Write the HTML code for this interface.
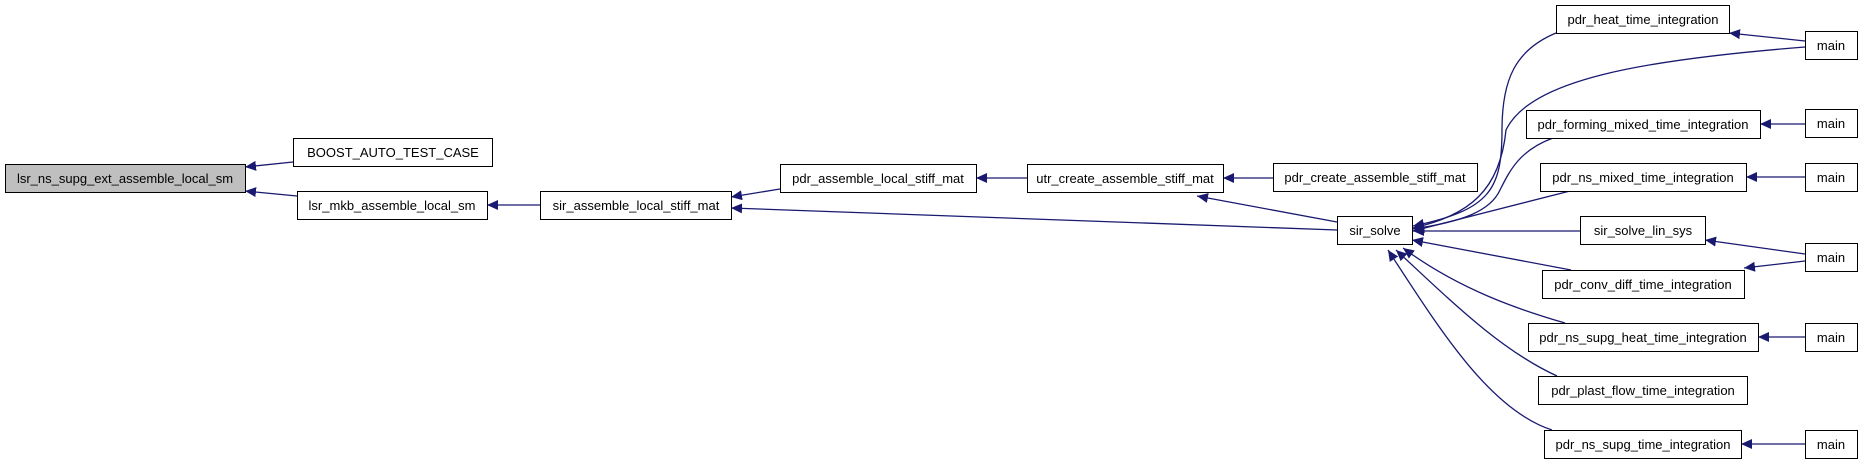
<!DOCTYPE html>
<html><head><meta charset="utf-8"><style>
html,body{margin:0;padding:0;background:#fff;}
svg{display:block;}
text{font-family:"Liberation Sans",Helvetica,sans-serif;font-size:13px;fill:#000;}
</style></head><body>
<svg width="1861" height="464" viewBox="0 0 1861 464" xmlns="http://www.w3.org/2000/svg">
<defs>
<marker id="a" markerWidth="12" markerHeight="10" refX="11" refY="5" orient="auto" markerUnits="userSpaceOnUse">
<path d="M0,0 L11,5 L0,10 Z" fill="#191970"/>
</marker>
</defs>
<g fill="none" stroke="#191970" stroke-width="1.3" marker-end="url(#a)">
<path d="M293,162 L245,167"/>
<path d="M297,196 L245,191"/>
<path d="M540,205 L487,205"/>
<path d="M780,189 L731,197"/>
<path d="M1337,230 L731,208"/>
<path d="M1027,178 L976,178"/>
<path d="M1273,178 L1223,178"/>
<path d="M1337,222 L1197,196"/>
<path d="M1556,33 C1515,50 1502,80 1502,130 C1502,190 1490,210 1413,226"/>
<path d="M1805,41 L1729,33"/>
<path d="M1805,47 C1640,60 1530,80 1506,130 C1500,190 1470,215 1413,228"/>
<path d="M1553,138 C1520,150 1510,170 1500,190 C1490,212 1460,222 1413,229"/>
<path d="M1805,124 L1760,124"/>
<path d="M1570,191 L1413,231"/>
<path d="M1805,177 L1746,177"/>
<path d="M1580,231 L1413,231"/>
<path d="M1805,254 L1705,240"/>
<path d="M1805,261 L1744,268"/>
<path d="M1571,270 L1412,240"/>
<path d="M1565,323 C1520,310 1460,290 1403,248"/>
<path d="M1557,376 C1500,350 1450,300 1396,250"/>
<path d="M1552,430 C1490,410 1440,330 1388,250"/>
<path d="M1805,337 L1758,337"/>
<path d="M1805,444 L1741,444"/>
</g>
<g stroke-width="1">
<rect x="5.5" y="164.5" width="240" height="28" fill="#bfbfbf" stroke="#000"/>
<rect x="293.5" y="138.5" width="199" height="28" fill="#fff" stroke="#000"/>
<rect x="297.5" y="191.5" width="190" height="28" fill="#fff" stroke="#000"/>
<rect x="540.5" y="191.5" width="191" height="28" fill="#fff" stroke="#000"/>
<rect x="780.5" y="164.5" width="196" height="28" fill="#fff" stroke="#000"/>
<rect x="1027.5" y="164.5" width="196" height="28" fill="#fff" stroke="#000"/>
<rect x="1273.5" y="163.5" width="204" height="28" fill="#fff" stroke="#000"/>
<rect x="1337.5" y="216.5" width="75" height="28" fill="#fff" stroke="#000"/>
<rect x="1556.5" y="5.5" width="173" height="28" fill="#fff" stroke="#000"/>
<rect x="1526.5" y="110.5" width="234" height="28" fill="#fff" stroke="#000"/>
<rect x="1540.5" y="163.5" width="206" height="28" fill="#fff" stroke="#000"/>
<rect x="1580.5" y="216.5" width="125" height="28" fill="#fff" stroke="#000"/>
<rect x="1542.5" y="270.5" width="202" height="28" fill="#fff" stroke="#000"/>
<rect x="1528.5" y="323.5" width="230" height="28" fill="#fff" stroke="#000"/>
<rect x="1538.5" y="376.5" width="209" height="28" fill="#fff" stroke="#000"/>
<rect x="1544.5" y="430.5" width="197" height="28" fill="#fff" stroke="#000"/>
<rect x="1805.5" y="31.5" width="52" height="28" fill="#fff" stroke="#000"/>
<rect x="1805.5" y="109.5" width="52" height="28" fill="#fff" stroke="#000"/>
<rect x="1805.5" y="163.5" width="52" height="28" fill="#fff" stroke="#000"/>
<rect x="1805.5" y="243.5" width="52" height="28" fill="#fff" stroke="#000"/>
<rect x="1805.5" y="323.5" width="52" height="28" fill="#fff" stroke="#000"/>
<rect x="1805.5" y="430.5" width="52" height="28" fill="#fff" stroke="#000"/>
</g>
<g text-anchor="middle">
<text x="125" y="183">lsr_ns_supg_ext_assemble_local_sm</text>
<text x="393" y="157">BOOST_AUTO_TEST_CASE</text>
<text x="392" y="210">lsr_mkb_assemble_local_sm</text>
<text x="636" y="210">sir_assemble_local_stiff_mat</text>
<text x="878" y="183">pdr_assemble_local_stiff_mat</text>
<text x="1125" y="183">utr_create_assemble_stiff_mat</text>
<text x="1375" y="182">pdr_create_assemble_stiff_mat</text>
<text x="1375" y="235">sir_solve</text>
<text x="1643" y="24">pdr_heat_time_integration</text>
<text x="1643" y="129">pdr_forming_mixed_time_integration</text>
<text x="1643" y="182">pdr_ns_mixed_time_integration</text>
<text x="1643" y="235">sir_solve_lin_sys</text>
<text x="1643" y="289">pdr_conv_diff_time_integration</text>
<text x="1643" y="342">pdr_ns_supg_heat_time_integration</text>
<text x="1643" y="395">pdr_plast_flow_time_integration</text>
<text x="1643" y="449">pdr_ns_supg_time_integration</text>
<text x="1831" y="50">main</text>
<text x="1831" y="128">main</text>
<text x="1831" y="182">main</text>
<text x="1831" y="262">main</text>
<text x="1831" y="342">main</text>
<text x="1831" y="449">main</text>
</g>
</svg>
</body></html>
